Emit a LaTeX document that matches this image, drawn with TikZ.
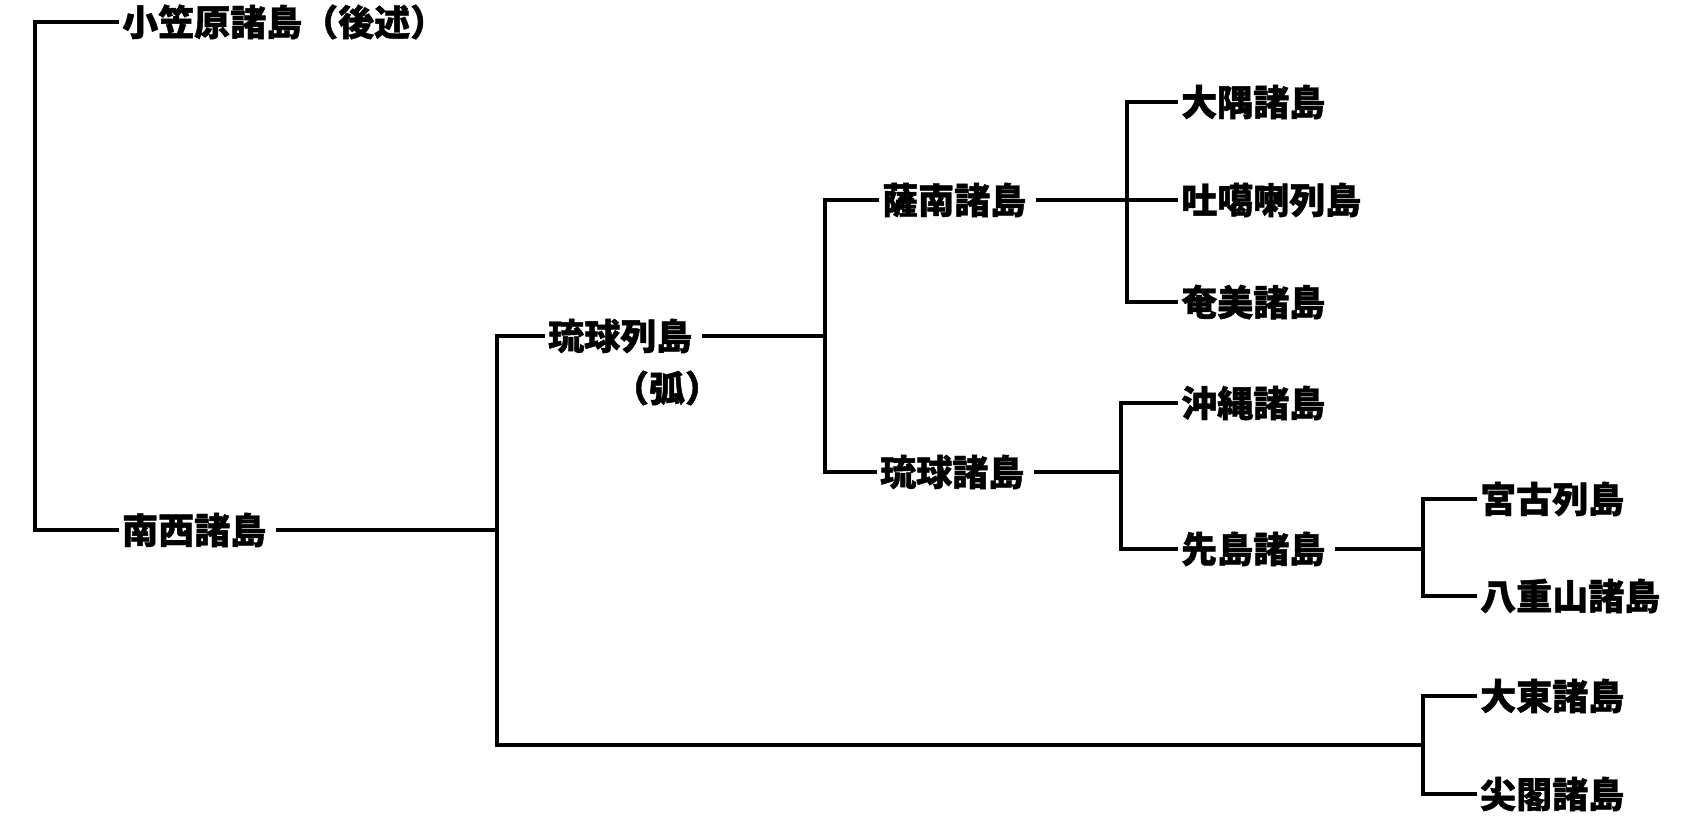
\documentclass[tikz,border=0pt]{standalone}
\usepackage{fontspec}
\newfontfamily\cjk{Noto Sans CJK JP}[BoldFeatures={FakeBold=1.2}]
\begin{document}
\begin{tikzpicture}[x=1pt,y=-1pt,
  lbl/.style={anchor=west,inner xsep=5pt,inner ysep=0pt,font=\cjk\bfseries\fontsize{36}{40}\selectfont},
  con/.style={line width=3.2pt,line cap=rect}]
\useasboundingbox (0,0) rectangle (1702,829);
% labels
\node[lbl] (oga) at (117,22) {小笠原諸島（後述）};
\node[lbl] (nansei) at (117,530) {南西諸島};
\node[lbl] (rretto) at (543,336) {琉球列島};
\node[lbl,anchor=center] (yumi) at (667,388) {\makebox[0.45em][r]{（}弧\makebox[0.45em][l]{）}};
\node[lbl] (satsunan) at (877,200) {薩南諸島};
\node[lbl] (rshoto) at (875,472) {琉球諸島};
\node[lbl] (osumi) at (1176,102) {大隅諸島};
\node[lbl] (tokara) at (1176,200) {吐噶喇列島};
\node[lbl] (amami) at (1176,302) {奄美諸島};
\node[lbl] (okinawa) at (1176,403) {沖縄諸島};
\node[lbl] (sakishima) at (1176,549) {先島諸島};
\node[lbl] (miyako) at (1475,499) {宮古列島};
\node[lbl] (yaeyama) at (1475,596) {八重山諸島};
\node[lbl] (daito) at (1475,696) {大東諸島};
\node[lbl] (senkaku) at (1475,794) {尖閣諸島};
% junctions
\coordinate (v0) at (35,300);
\coordinate (v1) at (497,530);
\coordinate (v2) at (825,336);
\coordinate (v3) at (1127,200);
\coordinate (v4) at (1121,472);
\coordinate (v5) at (1423,549);
\coordinate (v6) at (1423,745);
% connectors
\draw[con] (oga.west) -| (v0) |- (nansei.west);
\draw[con] ([xshift=6pt]nansei.east) -- (v1);
\draw[con] (rretto.west) -| (v1) |- (v6);
\draw[con] ([xshift=6pt]rretto.east) -- (v2);
\draw[con] (satsunan.west) -| (v2) |- (rshoto.west);
\draw[con] ([xshift=6pt]satsunan.east) -- (tokara.west);
\draw[con] (osumi.west) -| (v3) |- (amami.west);
\draw[con] ([xshift=6pt]rshoto.east) -- (v4);
\draw[con] (okinawa.west) -| (v4) |- (sakishima.west);
\draw[con] ([xshift=6pt]sakishima.east) -- (v5);
\draw[con] (miyako.west) -| (v5) |- (yaeyama.west);
\draw[con] (daito.west) -| (v6) |- (senkaku.west);
\end{tikzpicture}
\end{document}
